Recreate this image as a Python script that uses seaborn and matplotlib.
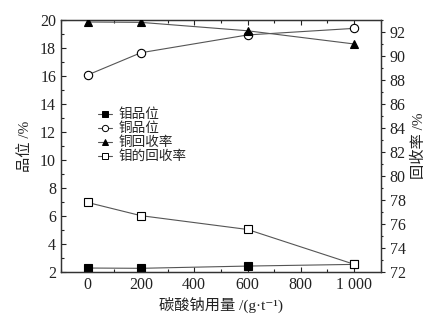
import seaborn as sns
import pandas as pd
import matplotlib.pyplot as plt
from matplotlib.ticker import MultipleLocator

# data
dosage = [0, 200, 600, 1000]
mo_grade = [2.29, 2.27, 2.43, 2.55]          # 钼品位, left axis
cu_grade = [16.07, 17.66, 18.93, 19.4]       # 铜品位, left axis
cu_recovery = [92.83, 92.8, 92.1, 91.0]      # 铜回收率, right axis
mo_recovery = [77.8, 76.7, 75.55, 72.65]     # 钼的回收率, right axis
xtick_vals = [0, 200, 400, 600, 800, 1000]
xtick_labels = ["0", "200", "400", "600", "800", "1 000"]

sns.set_style("ticks")
fonts = ["Liberation Serif", "Noto Sans CJK SC", "DejaVu Sans"]
plt.rcParams["font.family"] = fonts
plt.rcParams["axes.unicode_minus"] = False

left = pd.DataFrame({"x": dosage * 2,
                     "y": mo_grade + cu_grade,
                     "s": ["钼品位"] * 4 + ["铜品位"] * 4})
right = pd.DataFrame({"x": dosage * 2,
                      "y": cu_recovery + mo_recovery,
                      "s": ["铜回收率"] * 4 + ["钼的回收率"] * 4})

fig = plt.figure(figsize=(4.48, 3.22), dpi=100)
ax = fig.add_axes([0.136, 0.155, 0.714, 0.783])
ax2 = ax.twinx()

lc = "#555555"
mk = dict(markersize=6, markeredgecolor="black", markeredgewidth=0.8)
sns.lineplot(data=left, x="x", y="y", style="s", ax=ax, color=lc, lw=0.8,
             markers={"钼品位": "s", "铜品位": "o"},
             dashes=False, legend=False, **mk)
sns.lineplot(data=right, x="x", y="y", style="s", ax=ax2, color=lc, lw=0.8,
             markers={"铜回收率": "^", "钼的回收率": "s"},
             dashes=False, legend=False, **mk)

# marker faces: filled / open
lines = ax.get_lines() + ax2.get_lines()
faces = ["black", "white", "black", "white"]
for ln, fc in zip(lines, faces):
    ln.set_markerfacecolor(fc)
    ln.set_zorder(3)

ax.set_xlim(-100, 1100)
ax.set_ylim(2, 20)
ax2.set_ylim(72, 93)
ax.set_xticks(xtick_vals)
ax.set_xticklabels(xtick_labels)
ax.yaxis.set_major_locator(MultipleLocator(2))
ax.yaxis.set_minor_locator(MultipleLocator(1))
ax.xaxis.set_minor_locator(MultipleLocator(100))
ax2.yaxis.set_minor_locator(MultipleLocator(1))
ax2.set_yticks([72, 74, 76, 78, 80, 82, 84, 86, 88, 90, 92])

for a in (ax, ax2):
    for sp in a.spines.values():
        sp.set_visible(True)
        sp.set_linewidth(0.9)
        sp.set_color("#333333")
ax.tick_params(which="both", direction="in", top=True, labelsize=11.5,
               colors="#222222", width=0.8)
ax.tick_params(which="major", length=3.5)
ax.tick_params(which="minor", length=2)
ax2.tick_params(which="both", direction="out", labelsize=11.5,
                colors="#222222", width=0.8)
ax2.tick_params(which="major", length=3)
ax2.tick_params(which="minor", length=1.5)

ax.set_xlabel("碳酸钠用量 /(g·t⁻¹)", fontsize=11, color="#222222", labelpad=3)
ax.set_ylabel("品位 /%", fontsize=11, color="#222222", labelpad=6)
ax2.set_ylabel("回收率 /%", fontsize=11, color="#222222", labelpad=4)

# legend with small handles, as in the figure
handles = []
for fc, m in zip(faces, ["s", "o", "^", "s"]):
    h, = ax.plot([], [], color=lc, lw=0.8, marker=m, markersize=4.5,
                 markerfacecolor=fc, markeredgecolor="black", markeredgewidth=0.7)
    handles.append(h)
labels = ["钼品位", "铜品位", "铜回收率", "钼的回收率"]
ax.legend(handles, labels, loc="upper left", bbox_to_anchor=(0.1, 0.675),
          frameon=False, handlelength=1.0, handletextpad=0.45,
          labelspacing=0.0, borderaxespad=0,
          prop={"family": fonts[1:], "size": 9.8})

fig.savefig("out.png", dpi=100)
